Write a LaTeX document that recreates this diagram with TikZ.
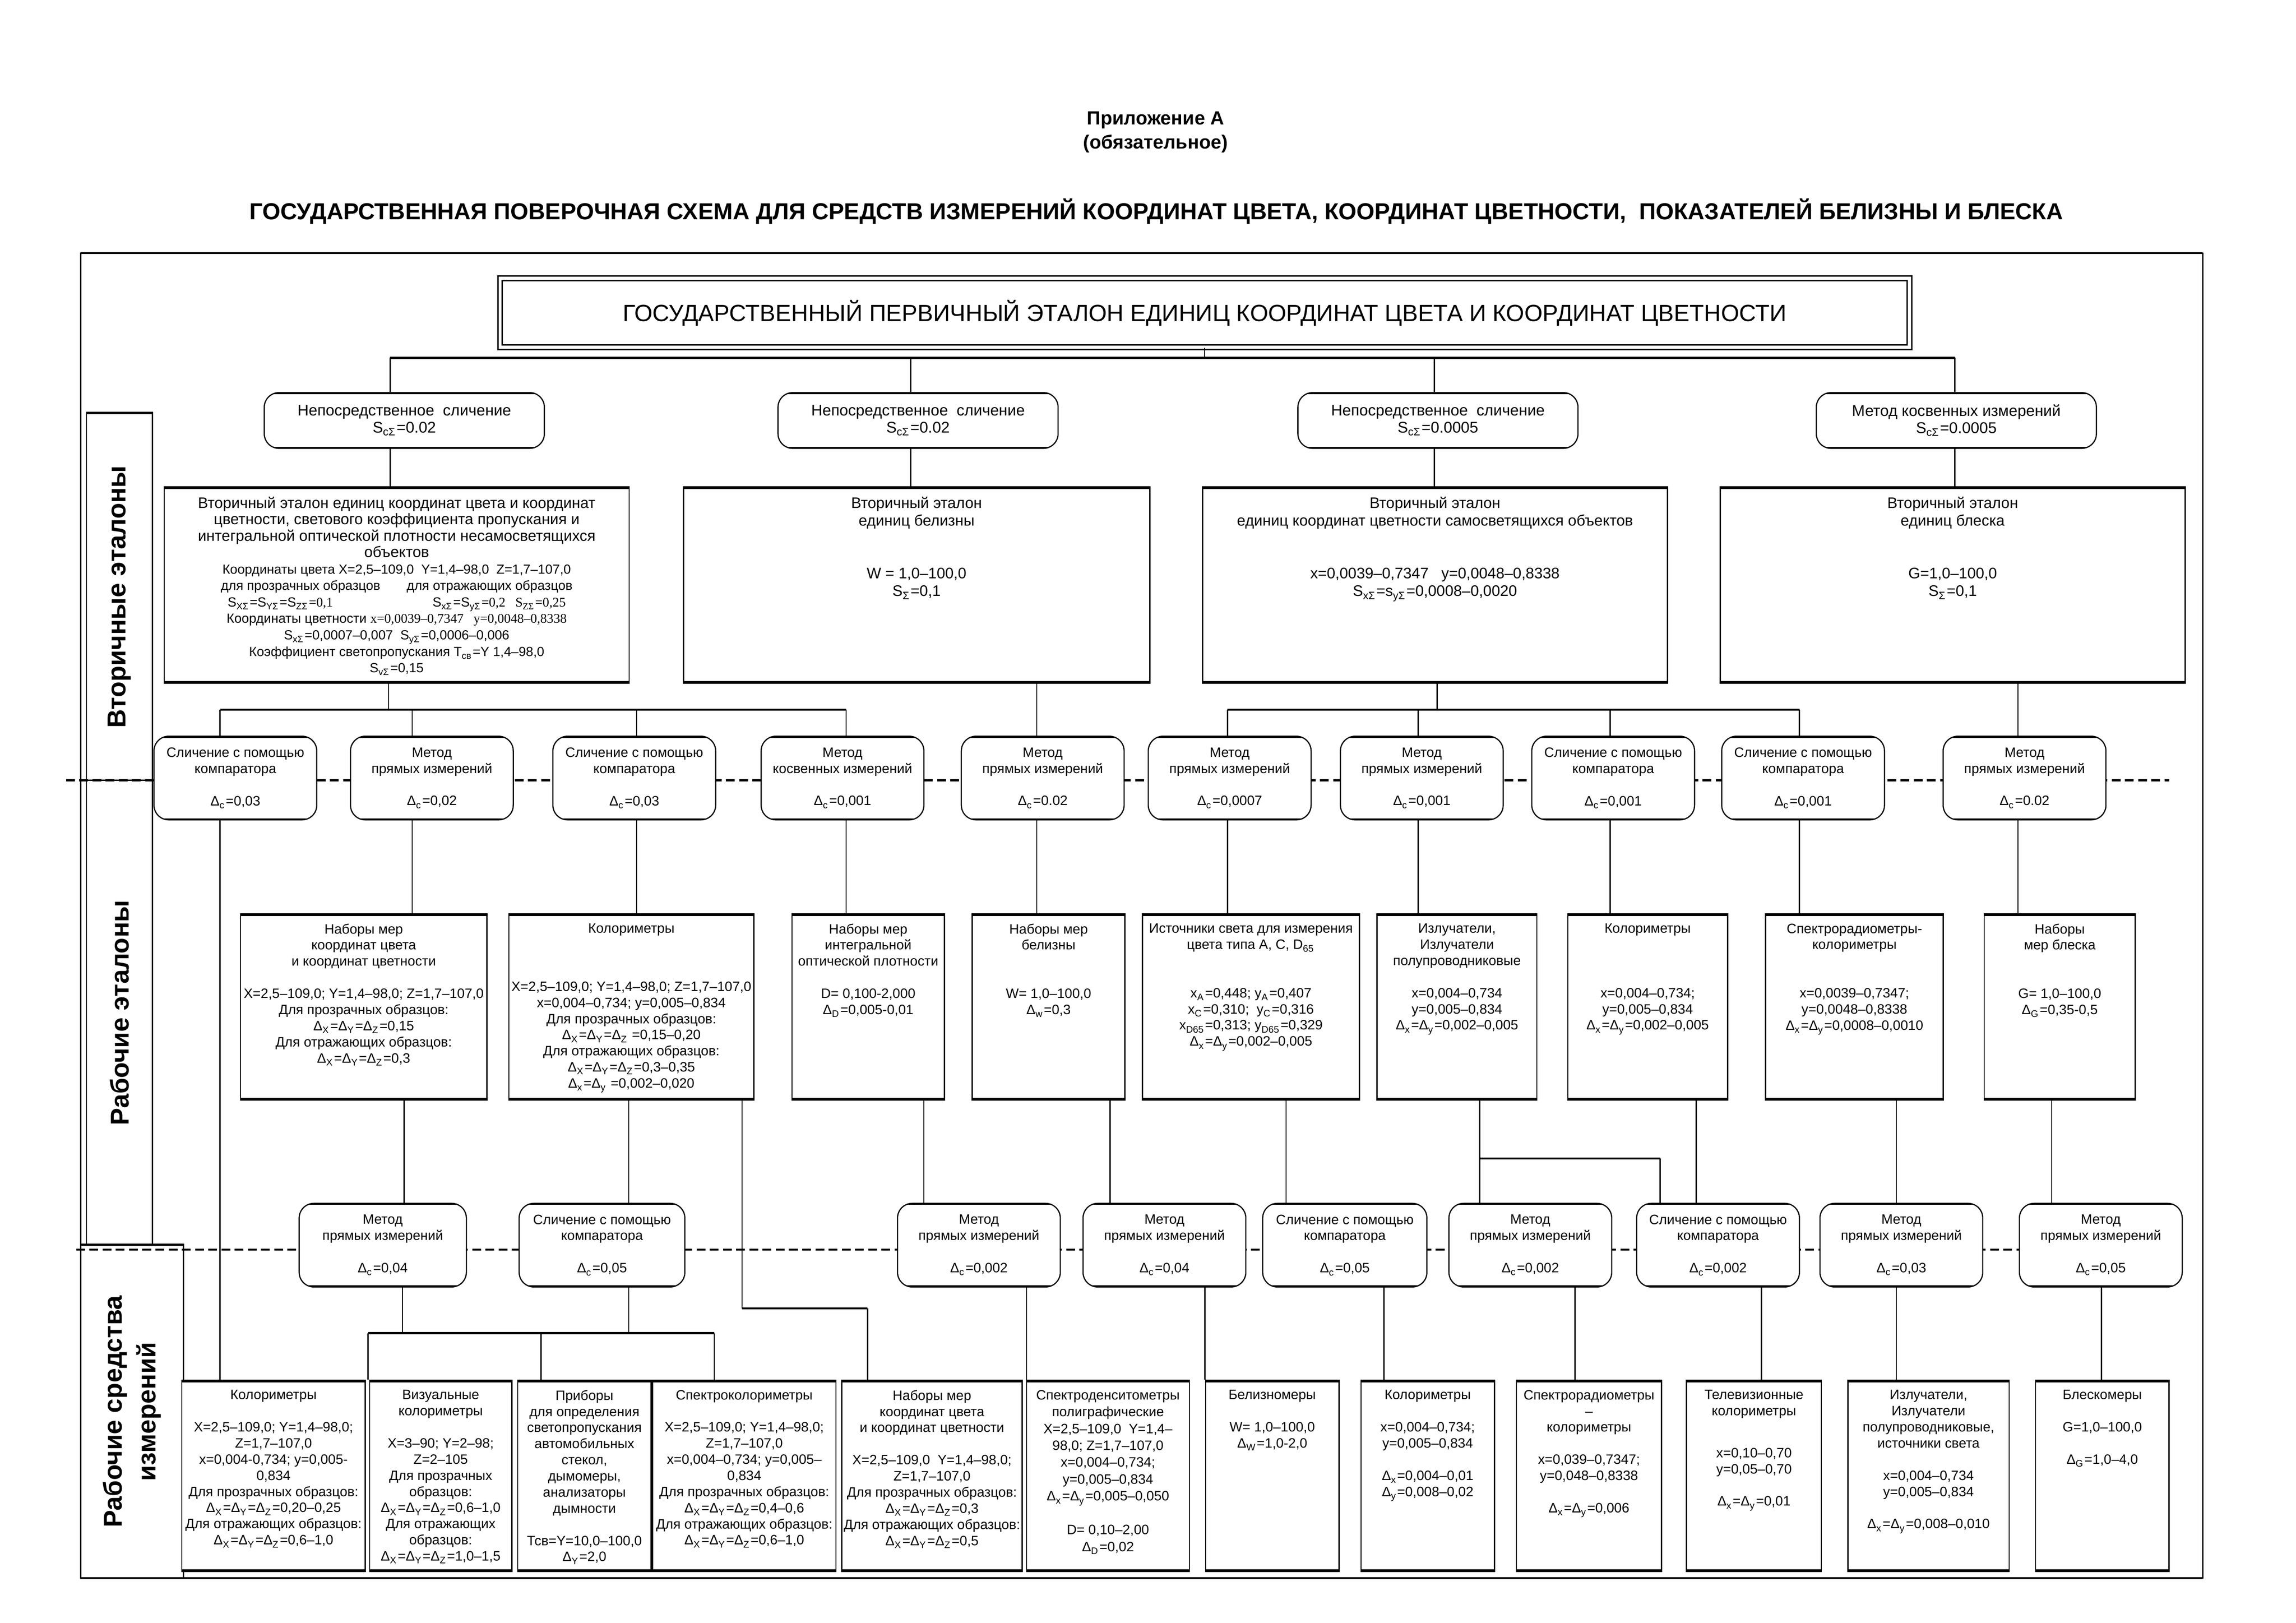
\documentclass[tikz,border=0pt]{standalone}
\usepackage{fontspec}
\setmainfont{Liberation Sans}
\newfontfamily\tms{Liberation Serif}
\newdimen\dunit \dunit=0.5pt
\newcommand{\dl}[1]{Δ\textsubscript{#1}}
\newcommand{\fsmall}{\fontsize{4.65}{5.5}\selectfont}
\newcommand{\fmid}{\fontsize{5.2}{6}\selectfont}
\newcommand{\frow}{\fontsize{5.3}{5.75}\selectfont}
\newcommand{\fside}{\fontsize{8.8}{11.5}\selectfont\bfseries}
\newcommand{\boxtext}[3]{\parbox[c][#2\dunit][t]{#1\dunit}{\centering\vspace*{3.4pt}#3}}

\begin{document}
\begin{tikzpicture}[x=0.5pt,y=-0.5pt,
  thickedges/.style={path picture={\draw[line width=#1]
      (path picture bounding box.north west) -- (path picture bounding box.north east)
      (path picture bounding box.south west) -- (path picture bounding box.south east);}},
  stdbox/.style={draw, line width=0.4pt, fill=white, inner sep=0pt, thickedges=1.5pt},
  roundbox/.style={draw, line width=0.4pt, fill=white, inner sep=0pt, align=center,
      rounded corners=5pt, thickedges=1.1pt, font=\fsmall},
  dirbox/.style={roundbox, font=\frow, minimum width=191\dunit, minimum height=38\dunit},
  methbox/.style={roundbox, minimum width=111\dunit, minimum height=57\dunit},
  sidebox/.style={draw, line width=0.4pt, inner sep=0pt, align=center, rotate=90, font=\fside},
  thinline/.style={line width=0.4pt},
  heavyline/.style={line width=0.65pt},
  secline/.style={line width=0.7pt, dash pattern=on 3pt off 1.5pt}]
\useasboundingbox (0,0) rectangle (1565.6,1106.6);

% заголовок
\node[font=\fontsize{6.5}{7}\selectfont\bfseries] (app) at (788,82) {Приложение А};
\node[font=\fontsize{6.5}{7}\selectfont\bfseries] (req) at (788,98) {(обязательное)};
\node[font=\fontsize{7.9}{8.5}\selectfont\bfseries] (title) at (788.5,144) {ГОСУДАРСТВЕННАЯ ПОВЕРОЧНАЯ СХЕМА ДЛЯ СРЕДСТВ ИЗМЕРЕНИЙ КООРДИНАТ ЦВЕТА, КООРДИНАТ ЦВЕТНОСТИ,~ ПОКАЗАТЕЛЕЙ БЕЛИЗНЫ И БЛЕСКА};

% рамка и границы уровней
\draw[line width=0.4pt] (55,172.6) rectangle (1502,1076);
\draw[line width=0.7pt] (55,172.6) -- (1502,172.6) (55,1076) -- (1502,1076);
\draw[secline] (45,532) -- (1479,532);
\draw[secline] (52,852) -- (1377,852);

% уровни
\node[sidebox, minimum width=250\dunit, minimum height=45\dunit] (s1) at (81.5,407) {Вторичные эталоны};
\node[sidebox, minimum width=317\dunit, minimum height=45\dunit] (s2) at (81.5,690.5) {Рабочие эталоны};
\node[sidebox, minimum width=227\dunit, minimum height=70\dunit] (s3) at (90,962.5) {Рабочие средства\\измерений};
\draw[line width=0.7pt] (s1.south east) -- (s1.north east);
\draw[line width=0.7pt] (s3.south east) -- (s3.north east);

% первичный эталон
\node[draw, double, line width=0.5pt, double distance=1pt, inner sep=0pt, minimum width=961\dunit, minimum height=47\dunit,
  font=\fontsize{8}{9}\selectfont] (prim) at (821.5,213.3) {ГОСУДАРСТВЕННЫЙ ПЕРВИЧНЫЙ ЭТАЛОН ЕДИНИЦ КООРДИНАТ ЦВЕТА И КООРДИНАТ ЦВЕТНОСТИ};

\node[dirbox] (r1) at (275.7,286.7) {Непосредственное~ сличение\\S\textsubscript{cΣ}=0.02};
\node[dirbox] (r2) at (626,286.7) {Непосредственное~ сличение\\S\textsubscript{cΣ}=0.02};
\node[dirbox] (r3) at (980.5,286.7) {Непосредственное~ сличение\\S\textsubscript{cΣ}=0.0005};
\node[dirbox] (r4) at (1334,286.7) {Метод косвенных измерений\\S\textsubscript{cΣ}=0.0005};

% вторичные эталоны
\node[stdbox, font=\fmid] (se1) at (270.5,399) {\boxtext{317}{134}{\fontsize{5.2}{5.6}\selectfont
Вторичный эталон единиц координат цвета и координат\\%
цветности, светового коэффициента пропускания и\\%
интегральной оптической плотности несамосветящихся\\%
объектов\\%
\fontsize{4.5}{5.6}\selectfont Координаты цвета X=2,5–109,0~ Y=1,4–98,0~ Z=1,7–107,0\\%
для прозрачных образцов\hspace{9pt}для отражающих образцов\\%
S\textsubscript{XΣ}=S\textsubscript{YΣ}=S\textsubscript{ZΣ}{\tms =0,1}\hspace{34pt}S\textsubscript{xΣ}=S\textsubscript{yΣ}{\tms =0,2~~ S\textsubscript{ZΣ}=0,25}\\%
Координаты цветности {\tms x=0,0039–0,7347~~ y=0,0048–0,8338}\\%
S\textsubscript{xΣ}=0,0007–0,007~ S\textsubscript{yΣ}=0,0006–0,006\\%
Коэффициент светопропускания T\textsubscript{св}=Y 1,4–98,0\\%
S\textsubscript{vΣ}=0,15}};
\node[stdbox, font=\fmid] (se2) at (625,399) {\boxtext{318}{134}{Вторичный эталон\\единиц белизны\\~\\~\\W = 1,0–100,0\\S\textsubscript{Σ}=0,1}};
\node[stdbox, font=\fmid] (se3) at (978.5,399) {\boxtext{317}{134}{Вторичный эталон\\единиц координат цветности самосветящихся объектов\\~\\~\\x=0,0039–0,7347~~ y=0,0048–0,8338\\S\textsubscript{xΣ}=s\textsubscript{yΣ}=0,0008–0,0020}};
\node[stdbox, font=\fmid] (se4) at (1331.5,399) {\boxtext{317}{134}{Вторичный эталон\\единиц блеска\\~\\~\\G=1,0–100,0\\S\textsubscript{Σ}=0,1}};

% методы передачи к рабочим эталонам
\node[methbox] (m1) at (160.5,530.5) {Сличение с помощью\\компаратора\\~\\\dl{c}=0,03};
\node[methbox] (m2) at (294.5,530.5) {Метод\\прямых измерений\\~\\\dl{c}=0,02};
\node[methbox] (m3) at (432.5,530.5) {Сличение с помощью\\компаратора\\~\\\dl{c}=0,03};
\node[methbox] (m4) at (574.5,530.5) {Метод\\косвенных измерений\\~\\\dl{c}=0,001};
\node[methbox] (m5) at (711,530.5) {Метод\\прямых измерений\\~\\\dl{c}=0.02};
\node[methbox] (m6) at (838.5,530.5) {Метод\\прямых измерений\\~\\\dl{c}=0,0007};
\node[methbox] (m7) at (969.5,530.5) {Метод\\прямых измерений\\~\\\dl{c}=0,001};
\node[methbox] (m8) at (1100,530.5) {Сличение с помощью\\компаратора\\~\\\dl{c}=0,001};
\node[methbox] (m9) at (1229.5,530.5) {Сличение с помощью\\компаратора\\~\\\dl{c}=0,001};
\node[methbox] (m10) at (1380.5,530.5) {Метод\\прямых измерений\\~\\\dl{c}=0.02};

% рабочие эталоны
\node[stdbox, font=\fsmall] (ws1) at (248,686.5) {\boxtext{168}{127}{Наборы мер\\координат цвета\\и координат цветности\\~\\X=2,5–109,0; Y=1,4–98,0; Z=1,7–107,0\\Для прозрачных образцов:\\\dl{X}=\dl{Y}=\dl{Z}=0,15\\Для отражающих образцов:\\\dl{X}=\dl{Y}=\dl{Z}=0,3}};
\node[stdbox, font=\fsmall] (ws2) at (430.5,686.5) {\boxtext{167}{127}{Колориметры\\[14.3pt]X=2,5–109,0; Y=1,4–98,0; Z=1,7–107,0\\x=0,004–0,734; y=0,005–0,834\\Для прозрачных образцов:\\\dl{X}=\dl{Y}=\dl{Z} =0,15–0,20\\Для отражающих образцов:\\\dl{X}=\dl{Y}=\dl{Z}=0,3–0,35\\\dl{x}=\dl{y} =0,002–0,020}};
\node[stdbox, font=\fsmall] (ws3) at (592,686.5) {\boxtext{104}{127}{Наборы мер\\интегральной\\оптической плотности\\~\\D= 0,100-2,000\\\dl{D}=0,005-0,01}};
\node[stdbox, font=\fsmall] (ws4) at (715,686.5) {\boxtext{104}{127}{Наборы мер\\белизны\\~\\~\\W= 1,0–100,0\\\dl{w}=0,3}};
\node[stdbox, font=\fsmall] (ws5) at (853,686.5) {\boxtext{148}{127}{Источники света для измерения\\цвета типа А, С, D\textsubscript{65}\\~\\~\\x\textsubscript{A}=0,448; y\textsubscript{A}=0,407\\x\textsubscript{C}=0,310;~ y\textsubscript{C}=0,316\\x\textsubscript{D65}=0,313; y\textsubscript{D65}=0,329\\\dl{x}=\dl{y}=0,002–0,005}};
\node[stdbox, font=\fsmall] (ws6) at (993.5,686.5) {\boxtext{109}{127}{Излучатели,\\Излучатели\\полупроводниковые\\~\\x=0,004–0,734\\y=0,005–0,834\\\dl{x}=\dl{y}=0,002–0,005}};
\node[stdbox, font=\fsmall] (ws7) at (1123.5,686.5) {\boxtext{109}{127}{Колориметры\\~\\~\\~\\x=0,004–0,734;\\y=0,005–0,834\\\dl{x}=\dl{y}=0,002–0,005}};
\node[stdbox, font=\fsmall] (ws8) at (1264.5,686.5) {\boxtext{121}{127}{Спектрорадиометры-\\колориметры\\~\\~\\x=0,0039–0,7347;\\y=0,0048–0,8338\\\dl{x}=\dl{y}=0,0008–0,0010}};
\node[stdbox, font=\fsmall] (ws9) at (1404.5,686.5) {\boxtext{103}{127}{Наборы\\мер блеска\\~\\~\\G= 1,0–100,0\\\dl{G}=0,35-0,5}};

% методы передачи к средствам измерений
\node[methbox, minimum width=114\dunit] (n1) at (261,849) {Метод\\прямых измерений\\~\\\dl{c}=0,04};
\node[methbox, minimum width=113\dunit] (n2) at (410.5,849) {Сличение с помощью\\компаратора\\~\\\dl{c}=0,05};
\node[methbox] (n3) at (667.5,849) {Метод\\прямых измерений\\~\\\dl{c}=0,002};
\node[methbox] (n4) at (794,849) {Метод\\прямых измерений\\~\\\dl{c}=0,04};
\node[methbox, minimum width=112\dunit] (n5) at (917,849) {Сличение с помощью\\компаратора\\~\\\dl{c}=0,05};
\node[methbox] (n6) at (1043.5,849) {Метод\\прямых измерений\\~\\\dl{c}=0,002};
\node[methbox] (n7) at (1171.5,849) {Сличение с помощью\\компаратора\\~\\\dl{c}=0,002};
\node[methbox] (n8) at (1296.5,849) {Метод\\прямых измерений\\~\\\dl{c}=0,03};
\node[methbox] (n9) at (1432.5,849) {Метод\\прямых измерений\\~\\\dl{c}=0,05};

% рабочие средства измерений
\node[stdbox, font=\fsmall] (b1) at (186.5,1006.3) {\boxtext{125}{130.6}{Колориметры\\~\\X=2,5–109,0; Y=1,4–98,0;\\Z=1,7–107,0\\x=0,004-0,734; y=0,005-\\0,834\\Для прозрачных образцов:\\\dl{X}=\dl{Y}=\dl{Z}=0,20–0,25\\Для отражающих образцов:\\\dl{X}=\dl{Y}=\dl{Z}=0,6–1,0}};
\node[stdbox, font=\fsmall] (b2) at (300.5,1006.3) {\boxtext{97}{130.6}{Визуальные\\колориметры\\~\\X=3–90; Y=2–98;\\Z=2–105\\Для прозрачных\\образцов:\\\dl{X}=\dl{Y}=\dl{Z}=0,6–1,0\\Для отражающих\\образцов:\\\dl{X}=\dl{Y}=\dl{Z}=1,0–1,5}};
\node[stdbox, font=\fsmall] (b3) at (398.5,1006.3) {\boxtext{91}{130.6}{Приборы\\для определения\\светопропускания\\автомобильных\\стекол,\\дымомеры,\\анализаторы\\дымности\\~\\Тсв=Y=10,0–100,0\\\dl{Y}=2,0}};
\node[stdbox, font=\fsmall] (b4) at (507.5,1006.3) {\boxtext{125}{130.6}{Спектроколориметры\\~\\X=2,5–109,0; Y=1,4–98,0;\\Z=1,7–107,0\\x=0,004–0,734; y=0,005–\\0,834\\Для прозрачных образцов:\\\dl{X}=\dl{Y}=\dl{Z}=0,4–0,6\\Для отражающих образцов:\\\dl{X}=\dl{Y}=\dl{Z}=0,6–1,0}};
\node[stdbox, font=\fsmall] (b5) at (635.5,1006.3) {\boxtext{123}{130.6}{Наборы мер\\координат цвета\\и координат цветности\\~\\X=2,5–109,0~ Y=1,4–98,0;\\Z=1,7–107,0\\Для прозрачных образцов:\\\dl{X}=\dl{Y}=\dl{Z}=0,3\\Для отражающих образцов:\\\dl{X}=\dl{Y}=\dl{Z}=0,5}};
\node[stdbox, font=\fontsize{4.65}{5.75}\selectfont] (b6) at (755.5,1006.3) {\boxtext{111}{130.6}{Спектроденситометры\\полиграфические\\X=2,5–109,0~ Y=1,4–\\98,0; Z=1,7–107,0\\x=0,004–0,734;\\y=0,005–0,834\\\dl{x}=\dl{y}=0,005–0,050\\~\\D= 0,10–2,00\\\dl{D}=0,02}};
\node[stdbox, font=\fsmall] (b7) at (867.5,1006.3) {\boxtext{91}{130.6}{Белизномеры\\~\\W= 1,0–100,0\\\dl{W}=1,0-2,0}};
\node[stdbox, font=\fsmall] (b8) at (973.5,1006.3) {\boxtext{91}{130.6}{Колориметры\\~\\x=0,004–0,734;\\y=0,005–0,834\\~\\\dl{x}=0,004–0,01\\\dl{y}=0,008–0,02}};
\node[stdbox, font=\fsmall] (b9) at (1083.5,1006.3) {\boxtext{99}{130.6}{Спектрорадиометры\\–\\колориметры\\~\\x=0,039–0,7347;\\y=0,048–0,8338\\~\\\dl{x}=\dl{y}=0,006}};
\node[stdbox, font=\fsmall] (b10) at (1196,1006.3) {\boxtext{92}{130.6}{Телевизионные\\колориметры\\[8.8pt]x=0,10–0,70\\y=0,05–0,70\\~\\\dl{x}=\dl{y}=0,01}};
\node[stdbox, font=\fsmall] (b11) at (1315,1006.3) {\boxtext{110}{130.6}{Излучатели,\\Излучатели\\полупроводниковые,\\источники света\\~\\x=0,004–0,734\\y=0,005–0,834\\~\\\dl{x}=\dl{y}=0,008–0,010}};
\node[stdbox, font=\fsmall] (b12) at (1433.5,1006.3) {\boxtext{91}{130.6}{Блескомеры\\~\\G=1,0–100,0\\~\\\dl{G}=1,0–4,0}};

% связи: первичный эталон -- вторичные
\coordinate (t1) at (266,244);
\coordinate (t2) at (621,244);
\coordinate (t3) at (978,244);
\coordinate (t4) at (1333,244);
\draw[thinline] (prim.south) -- (prim.south |- t1);
\draw[heavyline] (t1) -- (t4);
\foreach \i in {1,...,4}{
  \draw[thinline] (t\i) -- (t\i |- r\i.north);
  \draw[thinline] (r\i.south -| t\i) -- (se\i.north -| t\i);
}

% вторичные -- методы
\coordinate (a0) at (265,484);
\coordinate (a1) at (150,484);
\coordinate (a2) at (281,484);
\coordinate (a3) at (434,484);
\coordinate (a4) at (577,484);
\coordinate (b0) at (707,484);
\coordinate (c0) at (980,484);
\coordinate (c1) at (837,484);
\coordinate (c2) at (967,484);
\coordinate (c3) at (1098,484);
\coordinate (c4) at (1227,484);
\coordinate (d0) at (1376,484);
\draw[thinline] (se1.south -| a0) -- (a0);
\draw[heavyline] (a1) -- (a4);
\foreach \i in {1,...,4}
  \draw[thinline] (a\i) -- (a\i |- m\i.north);
\draw[thinline] (se2.south -| b0) -- (m5.north -| b0);
\draw[thinline] (se3.south -| c0) -- (c0);
\draw[heavyline] (c1) -- (c4);
\foreach \c/\m in {c1/m6, c2/m7, c3/m8, c4/m9}
  \draw[thinline] (\c) -- (\c |- \m.north);
\draw[thinline] (se4.south -| d0) -- (m10.north -| d0);

% методы -- рабочие эталоны
\draw[thinline] (m1.south -| a1) -- (b1.north -| a1);
\foreach \m/\w/\c in {m2/ws1/a2, m3/ws2/a3, m4/ws3/a4, m5/ws4/b0, m6/ws5/c1, m7/ws6/c2, m8/ws7/c3, m9/ws8/c4, m10/ws9/d0}
  \draw[thinline] (\m.south -| \c) -- (\w.north -| \c);

% рабочие эталоны -- методы
\foreach \w/\n/\x in {ws1/n1/275.5, ws2/n2/428.7, ws3/n3/630, ws4/n4/757, ws5/n5/877, ws6/n6/1009, ws7/n7/1156.6, ws8/n8/1293, ws9/n9/1399}{
  \coordinate (lk) at (\x,800);
  \draw[thinline] (\w.south -| lk) -- (\n.north -| lk);
}
\coordinate (k1) at (1009,790);
\coordinate (k2) at (1132,790);
\draw[heavyline] (k1) -- (k2);
\draw[thinline] (k2) -- (k2 |- n7.north);
\coordinate (k3) at (506,892);
\coordinate (k4) at (591.6,892);
\draw[thinline] (ws2.south -| k3) -- (k3);
\draw[heavyline] (k3) -- (k4);
\draw[thinline] (k4) -- (k4 |- b5.north);

% методы -- средства измерений
\coordinate (e1) at (251,909);
\coordinate (e2) at (369,909);
\coordinate (e3) at (487,909);
\coordinate (f1) at (274.5,909);
\coordinate (f2) at (428.7,909);
\draw[thinline] (n1.south -| f1) -- (f1);
\draw[thinline] (n2.south -| f2) -- (f2);
\draw[heavyline] (e1) -- (e3);
\foreach \e/\b in {e1/b2, e2/b3, e3/b4}
  \draw[thinline] (\e) -- (\e |- \b.north);
\foreach \n/\b/\x in {n3/b6/700, n4/b7/821.6, n5/b8/943.6, n6/b9/1074, n7/b10/1201, n8/b11/1293, n9/b12/1433}{
  \coordinate (lk) at (\x,920);
  \draw[thinline] (\n.south -| lk) -- (\b.north -| lk);
}
\end{tikzpicture}
\end{document}
